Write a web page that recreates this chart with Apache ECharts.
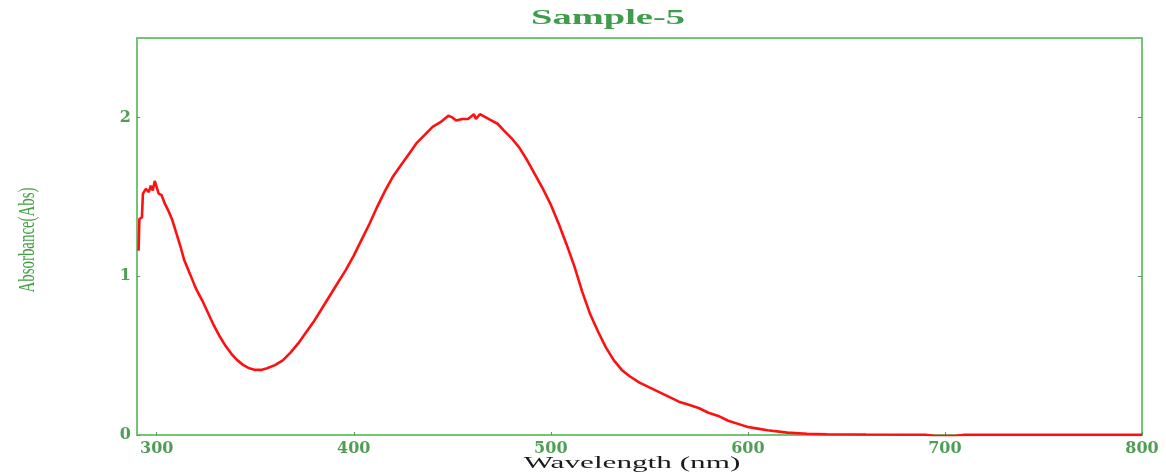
<!DOCTYPE html>
<html>
<head>
<meta charset="utf-8">
<title>Sample-5</title>
<script src="https://cdn.jsdelivr.net/npm/echarts@6/dist/echarts.min.js"></script>
<style>
  html, body { margin: 0; padding: 0; background: #ffffff; }
  #chart { width: 1166px; height: 472px; }
</style>
</head>
<body>
<div id="chart"></div>
<script>
// UV-Vis absorbance spectrum, wavelength in nm
const wavelengths = [
  290.8, 291.2, 292.5, 293.0, 294.5, 296, 297, 298, 299, 300,
  301, 302.5, 304, 306, 308, 310, 312, 314, 316, 318,
  320, 323, 326, 329, 332, 335, 338, 341, 344, 347,
  350, 353, 356, 360, 364, 368, 372, 376, 380, 384,
  388, 392, 396, 400, 404, 408, 412, 416, 420, 424,
  428, 432, 436, 440, 444, 448, 450, 452, 455, 458,
  461, 462, 464, 467, 470, 473, 476, 480, 484, 488,
  492, 496, 500, 504, 508, 512, 516, 520, 524, 528,
  532, 536, 540, 545, 550, 555, 560, 565, 570, 575,
  580, 585, 590, 595, 600, 605, 610, 620, 630, 640,
  660, 690, 695, 705, 710, 750, 800
];
const absorbance = [
  1.16, 1.36, 1.37, 1.52, 1.55, 1.53, 1.57, 1.54, 1.60, 1.56,
  1.52, 1.51, 1.46, 1.41, 1.35, 1.27, 1.19, 1.10, 1.04, 0.98,
  0.92, 0.85, 0.77, 0.69, 0.62, 0.56, 0.51, 0.47, 0.44, 0.42,
  0.41, 0.41, 0.42, 0.44, 0.47, 0.52, 0.58, 0.65, 0.72, 0.80,
  0.88, 0.96, 1.04, 1.13, 1.23, 1.33, 1.44, 1.54, 1.63, 1.70,
  1.77, 1.84, 1.89, 1.94, 1.97, 2.01, 2.00, 1.98, 1.99, 1.99,
  2.02, 1.99, 2.02, 2.00, 1.98, 1.96, 1.92, 1.87, 1.81, 1.73,
  1.64, 1.55, 1.45, 1.33, 1.20, 1.06, 0.90, 0.76, 0.65, 0.55,
  0.47, 0.41, 0.37, 0.33, 0.30, 0.27, 0.24, 0.21, 0.19, 0.17,
  0.14, 0.12, 0.09, 0.07, 0.05, 0.04, 0.03, 0.015, 0.008, 0.005,
  0.003, 0.002, -0.006, -0.006, 0.001, 0.001, 0.001
];
const xTicks = [300, 400, 500, 600, 700, 800];
const yTicks = [0, 1, 2];
const chartTitle = 'Sample-5';
const xTitle = 'Wavelength (nm)';
const yTitle = 'Absorbance(Abs)';

const axisGreen = '#74c474';
const labelGreen = '#4e9e55';

const points = wavelengths.map((w, i) => [w, absorbance[i]]);

const chart = echarts.init(document.getElementById('chart'), null, { renderer: 'canvas' });

chart.setOption({
  backgroundColor: '#ffffff',
  animation: false,
  grid: { left: 137, right: 24, top: 38, bottom: 37, containLabel: false },
  xAxis: [
    {
      type: 'value', position: 'bottom', min: 290, max: 800,
      axisLine: { show: true, onZero: false, lineStyle: { color: axisGreen, width: 2 } },
      axisTick: { show: true, inside: true, length: 3, customValues: xTicks, lineStyle: { color: '#5a9a5a', width: 1 } },
      axisLabel: {
        customValues: xTicks, margin: 6, color: labelGreen,
        fontFamily: '"DejaVu Serif"', fontWeight: 'bold', fontSize: 16
      },
      splitLine: { show: false }
    },
    {
      type: 'value', position: 'top', min: 290, max: 800,
      axisLine: { show: true, onZero: false, lineStyle: { color: axisGreen, width: 2 } },
      axisTick: { show: false },
      axisLabel: { show: false },
      splitLine: { show: false }
    }
  ],
  yAxis: [
    {
      type: 'value', position: 'left', min: 0, max: 2.5,
      axisLine: { show: true, onZero: false, lineStyle: { color: axisGreen, width: 2 } },
      axisTick: { show: true, inside: true, length: 3, customValues: yTicks, lineStyle: { color: '#5a9a5a', width: 1 } },
      axisLabel: {
        customValues: yTicks, margin: 6, color: labelGreen,
        fontFamily: '"DejaVu Serif"', fontWeight: 'bold', fontSize: 16
      },
      splitLine: { show: false }
    },
    {
      type: 'value', position: 'right', min: 0, max: 2.5,
      axisLine: { show: true, onZero: false, lineStyle: { color: axisGreen, width: 2 } },
      axisTick: { show: true, inside: true, length: 4, customValues: [1, 2], lineStyle: { color: '#5a9a5a', width: 1 } },
      axisLabel: { show: false },
      splitLine: { show: false }
    }
  ],
  graphic: [
    {
      type: 'text', x: 608, y: 18, scaleX: 1.75,
      style: {
        text: chartTitle, fill: '#3f9c4a',
        font: 'bold 22px "Liberation Serif"',
        textAlign: 'center', textVerticalAlign: 'middle'
      }
    },
    {
      type: 'text', x: 632, y: 464, scaleX: 1.95,
      style: {
        text: xTitle, fill: '#1a1a1a',
        font: '16px "Liberation Serif"',
        textAlign: 'center', textVerticalAlign: 'middle'
      }
    },
    {
      type: 'text', x: 28, y: 240, rotation: Math.PI / 2, scaleX: 0.62,
      style: {
        text: yTitle, fill: '#42a042',
        font: '24px "Liberation Serif"',
        textAlign: 'center', textVerticalAlign: 'middle'
      }
    }
  ],
  series: [
    {
      type: 'line',
      xAxisIndex: 0, yAxisIndex: 0,
      data: points,
      showSymbol: false,
      smooth: false,
      lineStyle: { color: '#ff1010', width: 2.6 },
      z: 3
    }
  ]
});
</script>
</body>
</html>
